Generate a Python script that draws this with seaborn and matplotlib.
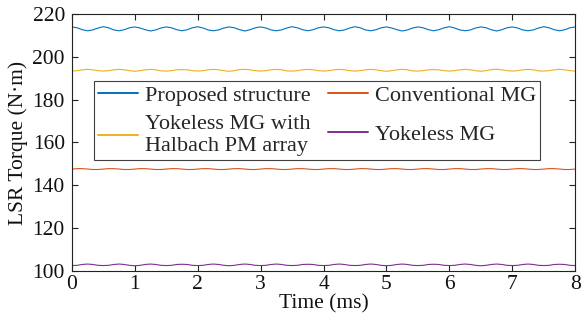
import numpy as np
import pandas as pd
import matplotlib
matplotlib.use("Agg")
import matplotlib.pyplot as plt
import seaborn as sns

# Sample grid: 0-8 ms, 12 samples per ms
time_ms = np.linspace(0, 8, 97)

proposed = [
    213.9, 213.5, 212.6, 212.1, 212.5, 213.4,
    214.0, 213.5, 212.5, 212.1, 212.6, 213.5,
    213.9, 213.4, 212.6, 212.0, 212.5, 213.4,
    213.9, 213.5, 212.6, 212.1, 212.6, 213.5,
    214.0, 213.4, 212.5, 212.1, 212.5, 213.4,
    213.9, 213.5, 212.6, 212.0, 212.6, 213.5,
    213.9, 213.4, 212.5, 212.1, 212.5, 213.4,
    214.0, 213.5, 212.6, 212.1, 212.6, 213.5,
    213.9, 213.5, 212.6, 212.1, 212.5, 213.4,
    214.0, 213.5, 212.5, 212.1, 212.6, 213.5,
    213.9, 213.4, 212.6, 212.0, 212.5, 213.4,
    213.9, 213.5, 212.6, 212.1, 212.6, 213.5,
    214.0, 213.4, 212.5, 212.1, 212.5, 213.4,
    213.9, 213.5, 212.6, 212.0, 212.6, 213.5,
    213.9, 213.4, 212.5, 212.1, 212.5, 213.4,
    214.0, 213.5, 212.6, 212.1, 212.6, 213.5,
    213.9,
]

halbach = [
    193.3, 193.5, 193.9, 194.1, 193.9, 193.5,
    193.3, 193.5, 193.9, 194.1, 193.9, 193.5,
    193.2, 193.5, 193.9, 194.1, 193.9, 193.4,
    193.3, 193.5, 193.9, 194.0, 193.9, 193.5,
    193.3, 193.5, 193.9, 194.1, 193.9, 193.5,
    193.2, 193.5, 194.0, 194.1, 193.9, 193.5,
    193.3, 193.5, 193.9, 194.1, 193.9, 193.4,
    193.3, 193.5, 193.9, 194.1, 193.9, 193.5,
    193.3, 193.5, 193.9, 194.1, 193.9, 193.5,
    193.3, 193.5, 193.9, 194.1, 193.9, 193.5,
    193.2, 193.5, 193.9, 194.1, 193.9, 193.4,
    193.3, 193.5, 193.9, 194.0, 193.9, 193.5,
    193.3, 193.5, 193.9, 194.1, 193.9, 193.5,
    193.2, 193.5, 194.0, 194.1, 193.9, 193.5,
    193.3, 193.5, 193.9, 194.1, 193.9, 193.4,
    193.3, 193.5, 193.9, 194.1, 193.9, 193.5,
    193.3,
]

conventional = [
    147.6, 147.8, 147.8, 147.6, 147.4, 147.4,
    147.6, 147.8, 147.8, 147.6, 147.4, 147.4,
    147.6, 147.8, 147.8, 147.6, 147.4, 147.4,
    147.6, 147.8, 147.8, 147.6, 147.4, 147.4,
    147.6, 147.8, 147.8, 147.6, 147.4, 147.4,
    147.6, 147.8, 147.8, 147.6, 147.4, 147.4,
    147.6, 147.8, 147.8, 147.6, 147.4, 147.4,
    147.6, 147.8, 147.8, 147.6, 147.4, 147.4,
    147.6, 147.8, 147.8, 147.6, 147.4, 147.4,
    147.6, 147.8, 147.8, 147.6, 147.4, 147.4,
    147.6, 147.8, 147.8, 147.6, 147.4, 147.4,
    147.6, 147.8, 147.8, 147.6, 147.4, 147.4,
    147.6, 147.8, 147.8, 147.6, 147.4, 147.4,
    147.6, 147.8, 147.8, 147.6, 147.4, 147.4,
    147.6, 147.8, 147.8, 147.6, 147.4, 147.4,
    147.6, 147.8, 147.8, 147.6, 147.4, 147.4,
    147.6,
]

yokeless = [
    102.6, 102.7, 103.1, 103.3, 103.1, 102.7,
    102.6, 102.7, 103.1, 103.3, 103.1, 102.7,
    102.5, 102.7, 103.1, 103.3, 103.1, 102.7,
    102.6, 102.7, 103.1, 103.2, 103.1, 102.7,
    102.6, 102.7, 103.1, 103.3, 103.1, 102.7,
    102.5, 102.7, 103.1, 103.3, 103.1, 102.7,
    102.6, 102.7, 103.1, 103.3, 103.1, 102.7,
    102.6, 102.7, 103.1, 103.2, 103.1, 102.7,
    102.6, 102.7, 103.1, 103.3, 103.1, 102.7,
    102.6, 102.7, 103.1, 103.3, 103.1, 102.7,
    102.5, 102.7, 103.1, 103.3, 103.1, 102.7,
    102.6, 102.7, 103.1, 103.2, 103.1, 102.7,
    102.6, 102.7, 103.1, 103.3, 103.1, 102.7,
    102.5, 102.7, 103.1, 103.3, 103.1, 102.7,
    102.6, 102.7, 103.1, 103.3, 103.1, 102.7,
    102.6, 102.7, 103.1, 103.2, 103.1, 102.7,
    102.6,
]

series_names = [
    "Proposed structure",
    "Yokeless MG with\nHalbach PM array",
    "Conventional MG",
    "Yokeless MG",
]
series_values = [proposed, halbach, conventional, yokeless]
series_colors = ["#0072BD", "#EDB120", "#D95319", "#7E2F8E"]

x_ticks = [0, 1, 2, 3, 4, 5, 6, 7, 8]
y_ticks = [100, 120, 140, 160, 180, 200, 220]

frames = [
    pd.DataFrame({"Time (ms)": time_ms, "Torque": vals, "Model": name})
    for name, vals in zip(series_names, series_values)
]
df = pd.concat(frames, ignore_index=True)

sns.set_theme(style="ticks")
plt.rcParams["font.family"] = ["Liberation Serif", "DejaVu Serif"]

FS = 15.5
LEG_FS = 16
DPI = 100

fig = plt.figure(figsize=(5.84, 3.22), dpi=DPI)
ax = fig.add_axes([0.123, 0.158, 0.862, 0.799])

sns.lineplot(
    data=df, x="Time (ms)", y="Torque", hue="Model",
    hue_order=series_names, palette=series_colors,
    linewidth=0.8, ax=ax, legend=True,
)

ax.set_xlim(0, 8)
ax.set_ylim(100, 220)
ax.set_xticks(x_ticks)
ax.set_yticks(y_ticks)
ax.tick_params(direction="in", length=4.5, width=0.8, top=True, right=True,
               labelsize=FS, colors="#222222", labelcolor="#111111")
ax.tick_params(axis="x", pad=3)
ax.tick_params(axis="y", pad=5)
for sp in ax.spines.values():
    sp.set_linewidth(0.8)
    sp.set_color("#222222")
    sp.set_visible(True)

ax.set_xlabel("Time (ms)", fontsize=FS, labelpad=0, color="#111111")
ax.set_ylabel("LSR Torque (N·m)", fontsize=FS, labelpad=3, color="#111111")

handles, labels = ax.get_legend_handles_labels()
leg = ax.legend(
    handles, labels, ncol=2, loc="upper left",
    bbox_to_anchor=(0.044, 0.739),
    fontsize=LEG_FS, frameon=True, fancybox=False, edgecolor="#111111",
    handlelength=1.8, handletextpad=0.3, columnspacing=0.8,
    labelspacing=0.42, borderpad=0.18, borderaxespad=0.0,
)
leg.get_frame().set_linewidth(0.8)
for line in leg.get_lines():
    line.set_linewidth(1.4)
for txt in leg.get_texts():
    txt.set_linespacing(1.2)

# Centre the second-column "Yokeless MG" entry on the two-line entry beside it
fig.canvas.draw()
renderer = fig.canvas.get_renderer()
texts = leg.get_texts()
yb = texts[1].get_window_extent(renderer)
pb = texts[3].get_window_extent(renderer)
shift_px = (pb.y0 + pb.y1) / 2 - (yb.y0 + yb.y1) / 2
col2 = leg._legend_handle_box.get_children()[1]
col2.sep = col2.sep + shift_px * 72.0 / DPI

fig.savefig("out.png", dpi=DPI)
